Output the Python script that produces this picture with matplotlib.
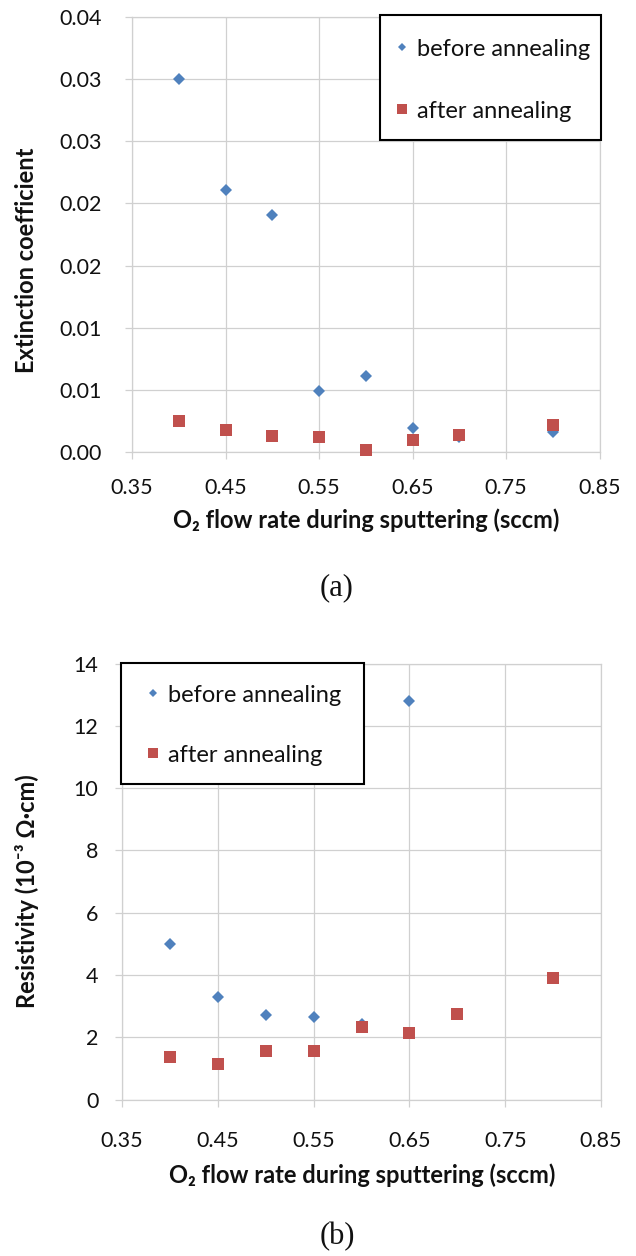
import matplotlib
matplotlib.use("Agg")
import matplotlib.pyplot as plt
from matplotlib.lines import Line2D
from matplotlib.patches import Rectangle
from matplotlib.ticker import FuncFormatter, MultipleLocator, FixedLocator
from decimal import Decimal, ROUND_HALF_UP

# ---------------- data ----------------
x_ticks = [0.35, 0.45, 0.55, 0.65, 0.75, 0.85]

x_before = [0.40, 0.45, 0.50, 0.55, 0.60, 0.65, 0.70, 0.80]
x_after = [0.40, 0.45, 0.50, 0.55, 0.60, 0.65, 0.70, 0.80]
k_before = [0.0300, 0.0211, 0.0191, 0.0049, 0.0061, 0.0019, 0.0012, 0.0016]
k_after = [0.0025, 0.0018, 0.0013, 0.0012, 0.0002, 0.0010, 0.0014, 0.0022]

rx_before = [0.40, 0.45, 0.50, 0.55, 0.60, 0.65]
rx_after = [0.40, 0.45, 0.50, 0.55, 0.60, 0.65, 0.70, 0.80]
res_before = [5.0, 3.30, 2.72, 2.65, 2.43, 12.8]
res_after = [1.38, 1.14, 1.57, 1.57, 2.32, 2.13, 2.76, 3.90]

series_labels = ["before annealing", "after annealing"]
x_label = "O\u2082 flow rate during sputtering (sccm)"
y_label_a = "Extinction coefficient"
y_label_b = "Resistivity (10\u207b\u00b3 \u03a9\u00b7cm)"
panel_labels = ["(a)", "(b)"]

# ---------------- style ----------------
W, H = 636, 1256
DPI = 100
BLUE = "#4F81BD"
RED = "#C0504D"
GRID = "#D0D0D0"
FONT = ["Lato", "DejaVu Sans"]
plt.rcParams["font.family"] = FONT

fig = plt.figure(figsize=(W / DPI, H / DPI), dpi=DPI)


def px_axes(l, t, r, b):
    return [l / W, 1 - b / H, (r - l) / W, (b - t) / H]


def fx(x):
    return x / W


def fy(y):
    return 1 - y / H


def excel_fmt(v, _pos=None):
    d = Decimal(str(float(round(float(v), 8)))).quantize(Decimal("0.01"), rounding=ROUND_HALF_UP)
    return str(d)


def style_axes(ax, ypad, xpad):
    ax.set_axisbelow(True)
    ax.grid(True, color=GRID, linewidth=0.9)
    for s in ax.spines.values():
        s.set_color(GRID)
        s.set_linewidth(0.9)
    ax.tick_params(axis="both", length=5, width=0.9, color=GRID,
                   labelsize=15.5, labelcolor="#111111")
    ax.tick_params(axis="y", pad=ypad)
    ax.tick_params(axis="x", pad=xpad)
    ax.set_xlim(x_ticks[0], x_ticks[-1])
    ax.xaxis.set_major_locator(FixedLocator(x_ticks))
    ax.xaxis.set_major_formatter(FuncFormatter(lambda v, p: f"{v:.2f}"))


def legend_box(l, t, r, b, mx, tx, rows):
    rect = Rectangle((fx(l), fy(b)), fx(r) - fx(l), fy(t) - fy(b),
                     transform=fig.transFigure, facecolor="white",
                     edgecolor="black", linewidth=1.5, zorder=5)
    fig.patches.append(rect)
    specs = [("D", 4.5, BLUE), ("s", 7, RED)]
    for (mk, ms, col), lab, ry in zip(specs, series_labels, rows):
        fig.lines.append(Line2D([fx(mx)], [fy(ry)], transform=fig.transFigure,
                                linestyle="none", marker=mk, markersize=ms,
                                color=col, markeredgewidth=0, zorder=6))
        fig.text(fx(tx), fy(ry), lab, ha="left", va="center_baseline",
                 fontsize=17, color="#111111", zorder=6)


# ---------------- panel (a) ----------------
ax1 = fig.add_axes(px_axes(132, 17, 599.5, 452))
style_axes(ax1, ypad=16.5, xpad=13.5)
ax1.set_ylim(0, 0.035)
ax1.yaxis.set_major_locator(MultipleLocator(0.005))
ax1.yaxis.set_major_formatter(FuncFormatter(excel_fmt))
ax1.plot(x_before, k_before, linestyle="none", marker="D", markersize=6.2,
         color=BLUE, markeredgewidth=0, zorder=3, label=series_labels[0])
ax1.plot(x_after, k_after, linestyle="none", marker="s", markersize=8.6,
         color=RED, markeredgewidth=0, zorder=4, label=series_labels[1])
for ln in ax1.lines:
    ln.set_clip_on(False)

legend_box(380, 15, 601, 140, 402, 417, [47, 109])

fig.text(fx(27), fy(260), y_label_a, rotation=90, ha="center", va="center",
         fontsize=17, fontweight="bold", color="#111111")
fig.text(fx(366), fy(520), x_label, ha="center", va="center",
         fontsize=17, fontweight="bold", color="#111111")
fig.text(fx(337), fy(588), panel_labels[0], ha="center", va="center",
         fontsize=22, family=["Liberation Serif", "DejaVu Serif"], color="#111111")

# ---------------- panel (b) ----------------
ax2 = fig.add_axes(px_axes(122, 663.5, 601, 1099.6))
style_axes(ax2, ypad=12, xpad=17.5)
ax2.set_ylim(0, 14)
ax2.yaxis.set_major_locator(MultipleLocator(2))
ax2.yaxis.set_major_formatter(FuncFormatter(lambda v, p: f"{v:.0f}"))
ax2.plot(rx_before, res_before, linestyle="none", marker="D", markersize=6.2,
         color=BLUE, markeredgewidth=0, zorder=3, label=series_labels[0])
ax2.plot(rx_after, res_after, linestyle="none", marker="s", markersize=8.6,
         color=RED, markeredgewidth=0, zorder=4, label=series_labels[1])
for ln in ax2.lines:
    ln.set_clip_on(False)

legend_box(121, 663, 364, 784, 153, 168, [693, 753])

fig.text(fx(27), fy(891), y_label_b, rotation=90, ha="center", va="center",
         fontsize=17, fontweight="bold", color="#111111")
fig.text(fx(362), fy(1175), x_label, ha="center", va="center",
         fontsize=17, fontweight="bold", color="#111111")
fig.text(fx(337), fy(1237), panel_labels[1], ha="center", va="center",
         fontsize=22, family=["Liberation Serif", "DejaVu Serif"], color="#111111")

fig.savefig("out.png", dpi=DPI, facecolor="white")
